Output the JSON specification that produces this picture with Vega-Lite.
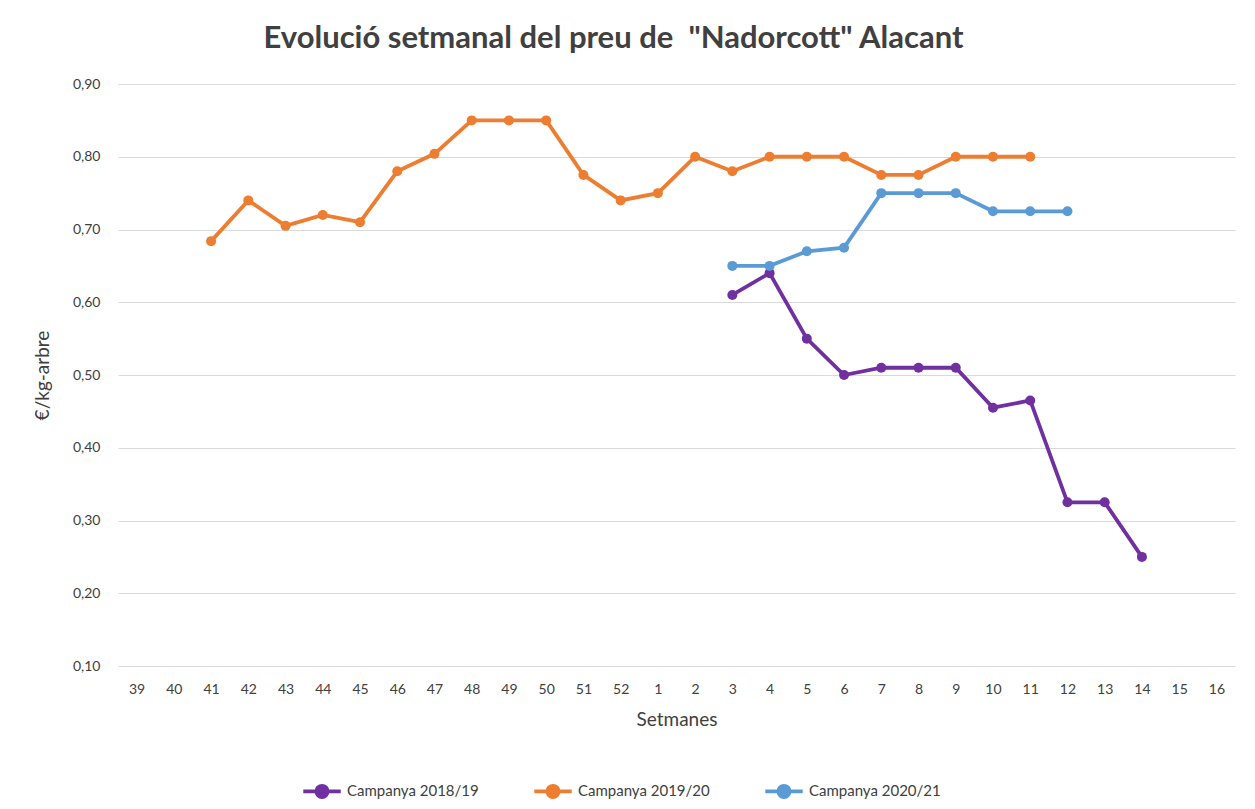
{
  "$schema": "https://vega.github.io/schema/vega-lite/v6.json",
  "autosize": "none",
  "width": 1117,
  "height": 582,
  "padding": {"left": 118, "top": 84, "right": 20, "bottom": 143},
  "background": "white",
  "title": {
    "text": "Evolució setmanal del preu de \u00a0\"Nadorcott\" Alacant",
    "font": "Lato",
    "fontSize": 31,
    "fontWeight": "bold",
    "color": "#404040",
    "anchor": "middle",
    "dx": -63,
    "offset": 22
  },
  "config": {
    "view": {"stroke": null},
    "font": "Lato"
  },
  "data": {
    "values": [
      {"campanya": "Campanya 2018/19", "setmana": "3", "preu": 0.61},
      {"campanya": "Campanya 2018/19", "setmana": "4", "preu": 0.64},
      {"campanya": "Campanya 2018/19", "setmana": "5", "preu": 0.55},
      {"campanya": "Campanya 2018/19", "setmana": "6", "preu": 0.50},
      {"campanya": "Campanya 2018/19", "setmana": "7", "preu": 0.51},
      {"campanya": "Campanya 2018/19", "setmana": "8", "preu": 0.51},
      {"campanya": "Campanya 2018/19", "setmana": "9", "preu": 0.51},
      {"campanya": "Campanya 2018/19", "setmana": "10", "preu": 0.455},
      {"campanya": "Campanya 2018/19", "setmana": "11", "preu": 0.465},
      {"campanya": "Campanya 2018/19", "setmana": "12", "preu": 0.325},
      {"campanya": "Campanya 2018/19", "setmana": "13", "preu": 0.325},
      {"campanya": "Campanya 2018/19", "setmana": "14", "preu": 0.25},
      {"campanya": "Campanya 2019/20", "setmana": "41", "preu": 0.684},
      {"campanya": "Campanya 2019/20", "setmana": "42", "preu": 0.74},
      {"campanya": "Campanya 2019/20", "setmana": "43", "preu": 0.705},
      {"campanya": "Campanya 2019/20", "setmana": "44", "preu": 0.72},
      {"campanya": "Campanya 2019/20", "setmana": "45", "preu": 0.71},
      {"campanya": "Campanya 2019/20", "setmana": "46", "preu": 0.78},
      {"campanya": "Campanya 2019/20", "setmana": "47", "preu": 0.804},
      {"campanya": "Campanya 2019/20", "setmana": "48", "preu": 0.85},
      {"campanya": "Campanya 2019/20", "setmana": "49", "preu": 0.85},
      {"campanya": "Campanya 2019/20", "setmana": "50", "preu": 0.85},
      {"campanya": "Campanya 2019/20", "setmana": "51", "preu": 0.775},
      {"campanya": "Campanya 2019/20", "setmana": "52", "preu": 0.74},
      {"campanya": "Campanya 2019/20", "setmana": "1", "preu": 0.75},
      {"campanya": "Campanya 2019/20", "setmana": "2", "preu": 0.80},
      {"campanya": "Campanya 2019/20", "setmana": "3", "preu": 0.78},
      {"campanya": "Campanya 2019/20", "setmana": "4", "preu": 0.80},
      {"campanya": "Campanya 2019/20", "setmana": "5", "preu": 0.80},
      {"campanya": "Campanya 2019/20", "setmana": "6", "preu": 0.80},
      {"campanya": "Campanya 2019/20", "setmana": "7", "preu": 0.775},
      {"campanya": "Campanya 2019/20", "setmana": "8", "preu": 0.775},
      {"campanya": "Campanya 2019/20", "setmana": "9", "preu": 0.80},
      {"campanya": "Campanya 2019/20", "setmana": "10", "preu": 0.80},
      {"campanya": "Campanya 2019/20", "setmana": "11", "preu": 0.80},
      {"campanya": "Campanya 2020/21", "setmana": "3", "preu": 0.65},
      {"campanya": "Campanya 2020/21", "setmana": "4", "preu": 0.65},
      {"campanya": "Campanya 2020/21", "setmana": "5", "preu": 0.67},
      {"campanya": "Campanya 2020/21", "setmana": "6", "preu": 0.675},
      {"campanya": "Campanya 2020/21", "setmana": "7", "preu": 0.75},
      {"campanya": "Campanya 2020/21", "setmana": "8", "preu": 0.75},
      {"campanya": "Campanya 2020/21", "setmana": "9", "preu": 0.75},
      {"campanya": "Campanya 2020/21", "setmana": "10", "preu": 0.725},
      {"campanya": "Campanya 2020/21", "setmana": "11", "preu": 0.725},
      {"campanya": "Campanya 2020/21", "setmana": "12", "preu": 0.725}
    ]
  },
  "mark": {"type": "line", "strokeWidth": 3.8, "point": {"size": 100, "filled": true}},
  "encoding": {
    "x": {
      "field": "setmana",
      "type": "ordinal",
      "scale": {
        "domain": ["39","40","41","42","43","44","45","46","47","48","49","50","51","52","1","2","3","4","5","6","7","8","9","10","11","12","13","14","15","16"],
        "padding": 0.5
      },
      "axis": {
        "title": "Setmanes",
        "titleFont": "Lato",
        "titleFontSize": 19,
        "titleFontWeight": "normal",
        "titleColor": "#404040",
        "titlePadding": 14,
        "labelAngle": 0,
        "labelFont": "Lato",
        "labelFontSize": 14,
        "labelColor": "#404040",
        "labelPadding": 16,
        "ticks": false,
        "domain": false,
        "grid": false
      }
    },
    "y": {
      "field": "preu",
      "type": "quantitative",
      "scale": {"domain": [0.1, 0.9], "nice": false, "zero": false},
      "axis": {
        "title": "€/kg-arbre",
        "titleFont": "Lato",
        "titleFontSize": 19,
        "titleFontWeight": "normal",
        "titleColor": "#404040",
        "titlePadding": 20,
        "values": [0.1,0.2,0.3,0.4,0.5,0.6,0.7,0.8,0.9],
        "labelExpr": "replace(format(datum.value, '.2f'), '.', ',')",
        "labelFont": "Lato",
        "labelFontSize": 14,
        "labelColor": "#404040",
        "labelPadding": 18,
        "ticks": false,
        "domain": false,
        "grid": true,
        "gridColor": "#d9d9d9",
        "gridWidth": 1
      }
    },
    "color": {
      "field": "campanya",
      "type": "nominal",
      "scale": {
        "domain": ["Campanya 2018/19", "Campanya 2019/20", "Campanya 2020/21"],
        "range": ["#7030A0", "#ED7D31", "#5B9BD5"]
      },
      "legend": {
        "title": null,
        "orient": "none",
        "direction": "horizontal",
        "legendX": 183,
        "legendY": 686,
        "labelFont": "Lato",
        "labelFontSize": 15,
        "labelColor": "#404040",
        "symbolType": "M-1,0H1M-0.3,0A0.3,0.3 0 1,0 0.3,0A0.3,0.3 0 1,0 -0.3,0",
        "symbolSize": 1400,
        "symbolStrokeWidth": 3.8,
        "columnPadding": 47,
        "labelOffset": 4
      }
    }
  }
}
